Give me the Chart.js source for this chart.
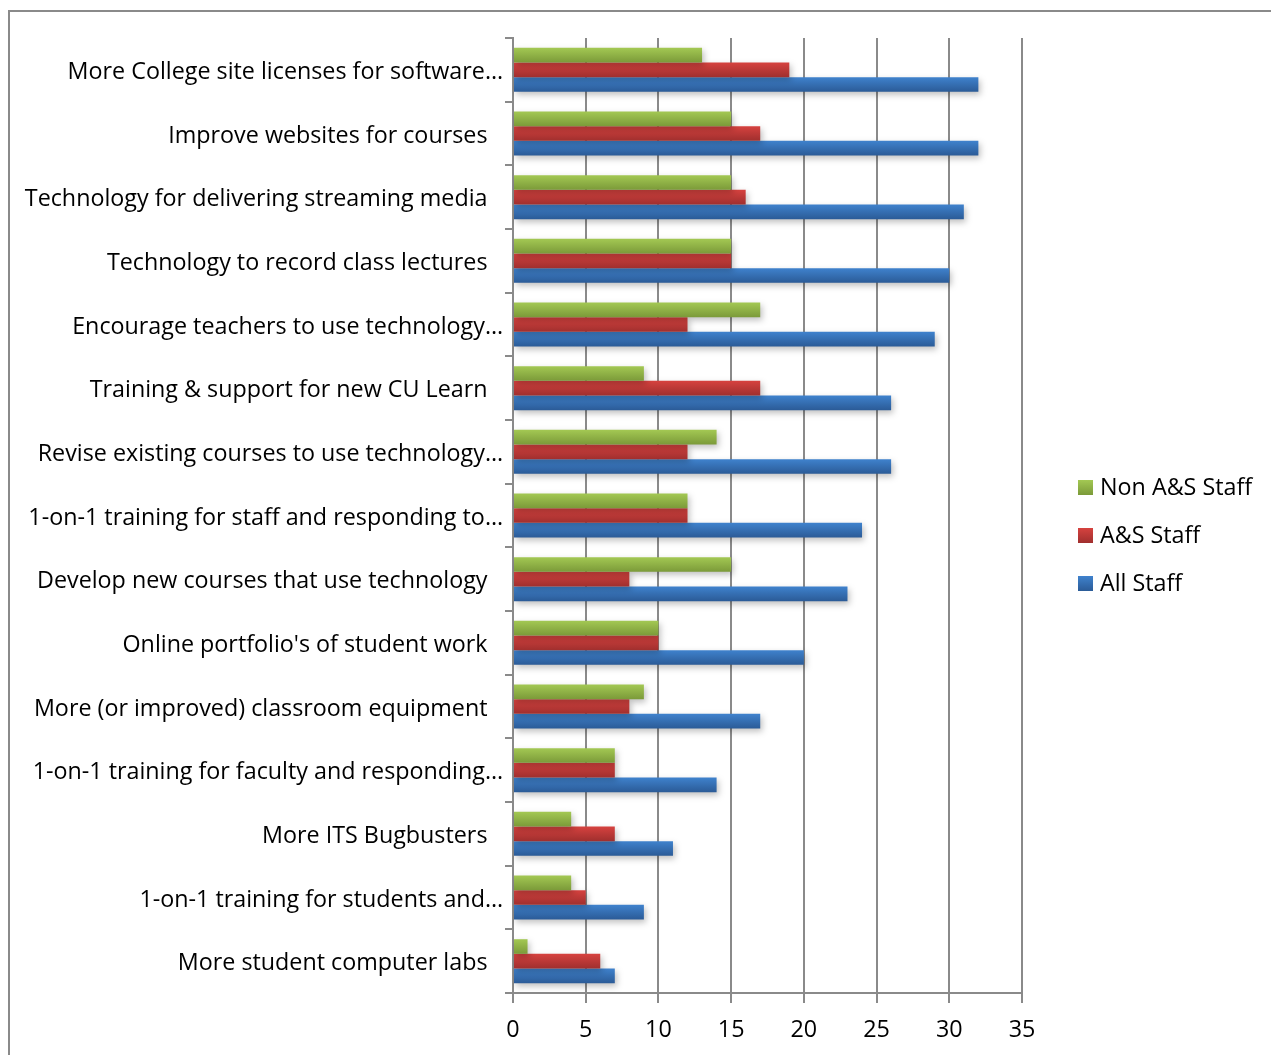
<!DOCTYPE html>
<html>
<head>
<meta charset="utf-8">
<title>Technology priorities by staff group</title>
<script src="https://cdn.jsdelivr.net/npm/chart.js@4/dist/chart.umd.min.js"></script>
<style>
  body { margin: 0; background: #fff; }
  .wrap { position: relative; width: 1271px; height: 1055px; overflow: hidden; }
  .frame { position: absolute; left: 8px; top: 10px; width: 1400px; height: 1200px;
           border-left: 2px solid #8a8a8a; border-top: 2px solid #8a8a8a; }
  canvas { position: absolute; left: 0; top: 0; }
  .legend { position: absolute; left: 1078px; top: 472px; font-family: "Open Sans", sans-serif; font-size: 23.3px; color: #000; }
  .legend .item { height: 48px; line-height: 28px; display: flex; align-items: flex-start; }
  .legend .box { width: 15px; height: 15px; margin: 8px 7px 0 0; }
</style>
</head>
<body>
<div class="wrap">
  <div class="frame"></div>
  <canvas id="myChart" width="1271" height="1055"></canvas>
  <div class="legend" id="legend"></div>
</div>
<script>
const categories = [
    "More College site licenses for software…",
    "Improve websites for courses",
    "Technology for delivering streaming media",
    "Technology to record class lectures",
    "Encourage teachers to use technology…",
    "Training & support for new CU Learn",
    "Revise existing courses to use technology…",
    "1-on-1 training for staff and responding to…",
    "Develop new courses that use technology",
    "Online portfolio's of student work",
    "More (or improved) classroom equipment",
    "1-on-1 training for faculty and responding…",
    "More ITS Bugbusters",
    "1-on-1 training for students and…",
    "More student computer labs"
];
const seriesNames = ["Non A&S Staff", "A&S Staff", "All Staff"];
const nonAsStaff = [13, 15, 15, 15, 17, 9, 14, 12, 15, 10, 9, 7, 4, 4, 1];
const asStaff = [19, 17, 16, 15, 12, 17, 12, 12, 8, 10, 8, 7, 7, 5, 6];
const allStaff = [32, 32, 31, 30, 29, 26, 26, 24, 23, 20, 17, 14, 11, 9, 7];
const xTicks = [0, 5, 10, 15, 20, 25, 30, 35];

// light top / dark bottom, like the old office bar style
const shades = [
    ['#a3c853', '#7b9a39'],
    ['#d6423f', '#a02f2e'],
    ['#3f82cd', '#2b5b97']
];
const catPct = 0.69;
const font = { family: '"Open Sans", sans-serif', size: 23.3 };
const gray = '#8a8a8a';

function barFill(ctx) {
    const [top, bottom] = shades[ctx.datasetIndex];
    const y = ctx.chart.scales.y;
    if (ctx.dataIndex === undefined || !y) return top;
    const c0 = y.getPixelForValue(0);
    const c1 = y.getPixelForValue(1);
    if (!isFinite(c0) || !isFinite(c1) || c1 === c0) return top;
    const group = (c1 - c0) * catPct;
    const h = group / 3;
    const start = y.getPixelForValue(ctx.dataIndex) - group / 2 + ctx.datasetIndex * h;
    const g = ctx.chart.ctx.createLinearGradient(0, start, 0, start + h);
    g.addColorStop(0, top);
    g.addColorStop(1, bottom);
    return g;
}

const barShadow = {
    id: 'barShadow',
    beforeDatasetsDraw(chart) {
        const c = chart.ctx;
        c.save();
        c.shadowColor = 'rgba(0,0,0,0.25)';
        c.shadowBlur = 6;
        c.shadowOffsetX = 2;
        c.shadowOffsetY = 3;
    },
    afterDatasetsDraw(chart) {
        chart.ctx.restore();
    }
};

const datasets = [nonAsStaff, asStaff, allStaff].map((vals, i) => ({
    label: seriesNames[i],
    data: vals,
    backgroundColor: barFill,
    borderWidth: 0,
    barPercentage: 1,
    categoryPercentage: catPct
}));

new Chart(document.getElementById('myChart'), {
    type: 'bar',
    data: { labels: categories, datasets: datasets },
    options: {
        indexAxis: 'y',
        responsive: false,
        animation: false,
        layout: { padding: { left: 0, top: 38, right: 249, bottom: 0 } },
        plugins: {
            legend: { display: false },
            tooltip: { enabled: false }
        },
        scales: {
            x: {
                min: 0,
                max: 35,
                afterBuildTicks: (axis) => { axis.ticks = xTicks.map(v => ({ value: v })); },
                afterFit: (axis) => { axis.height = 62; },
                ticks: { color: '#000', font: font, padding: 13 },
                grid: { color: gray, lineWidth: 2, tickLength: 10 },
                border: { color: gray, width: 2 }
            },
            y: {
                afterFit: (axis) => { axis.width = 513; },
                ticks: {
                    color: '#000',
                    font: font,
                    padding: 2,
                    labelOffset: 2.5,
                    autoSkip: false,
                    callback: function (v) {
                        const s = this.getLabelForValue(v);
                        return s.endsWith('…') ? s : s + '\u2002\u2009';
                    }
                },
                grid: { color: gray, lineWidth: 2, tickLength: 8, drawOnChartArea: false, offset: true },
                border: { color: gray, width: 2 }
            }
        }
    },
    plugins: [barShadow]
});

// legend
const legend = document.getElementById('legend');
seriesNames.forEach((name, i) => {
    const item = document.createElement('div');
    item.className = 'item';
    item.innerHTML = `<div class="box" style="background: linear-gradient(${shades[i][0]}, ${shades[i][1]})"></div><span>${name.replace('&', '&amp;')}</span>`;
    legend.appendChild(item);
});
</script>
</body>
</html>
